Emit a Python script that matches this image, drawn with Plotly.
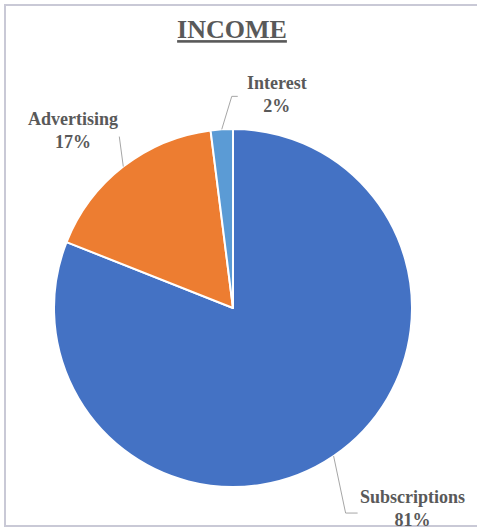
import math
import plotly.graph_objects as go

# ---- data ----
categories = ["Subscriptions", "Advertising", "Interest"]
values = [81, 17, 2]
colors = ["#4472C4", "#ED7D31", "#5B9BD5"]
title_text = "INCOME"

# ---- layout / styling ----
W, H = 477, 529
CX, CY, R = 233, 308, 179  # pie centre & radius in px
# label placement relative to the slice-edge anchor
label_style = {
    "Subscriptions": dict(elbow=(12, 57), end=(24, 57), text=(79, 52)),
    "Advertising": dict(elbow=(-4, -30), end=(-4, -30), text=(-50, -36)),
    "Interest": dict(elbow=(10, -33), end=(16, -33), text=(55, -35)),
}
label_font = dict(family="Liberation Serif, Times New Roman, serif", size=18, color="#595959")

def px2paper(x, y):
    return x / W, 1 - y / H

fig = go.Figure()
fig.add_trace(go.Pie(
    labels=categories,
    values=values,
    sort=False,
    direction="clockwise",
    rotation=0,
    marker=dict(colors=colors, line=dict(color="white", width=2)),
    textinfo="none",
    hoverinfo="label+percent",
    domain=dict(x=[(CX - R) / W, (CX + R) / W], y=[1 - (CY + R) / H, 1 - (CY - R) / H]),
    showlegend=False,
))

total = sum(values)
cum = 0
shapes = []
annotations = []
for cat, v in zip(categories, values):
    mid = (cum + v / 2) / total * 2 * math.pi
    cum += v
    ax = CX + R * math.sin(mid)
    ay = CY - R * math.cos(mid)
    st = label_style[cat]
    pts = [(ax, ay), (ax + st["elbow"][0], ay + st["elbow"][1]), (ax + st["end"][0], ay + st["end"][1])]
    path = "M " + " L ".join(f"{px2paper(x, y)[0]},{px2paper(x, y)[1]}" for x, y in pts)
    shapes.append(dict(type="path", xref="paper", yref="paper", path=path,
                       line=dict(color="#A6A6A6", width=1)))
    tx, ty = px2paper(ax + st["text"][0], ay + st["text"][1])
    pct = round(v / total * 100)
    annotations.append(dict(
        x=tx, y=ty, xref="paper", yref="paper", showarrow=False,
        text=f"<b>{cat}<br>{pct}%</b>", font=label_font, align="center",
        xanchor="center", yanchor="middle",
    ))

# border
shapes.append(dict(type="rect", xref="paper", yref="paper",
                   x0=5 / W, x1=1.05, y0=1 - 526 / H, y1=1 - 5 / H,
                   line=dict(color="#C9C9D6", width=2)))

fig.update_layout(
    width=W, height=H,
    margin=dict(l=0, r=0, t=0, b=0),
    paper_bgcolor="white",
    plot_bgcolor="white",
    title=dict(
        text=f"<b><span style='text-decoration:underline'>{title_text}</span></b>",
        x=232 / W, y=1 - 29 / H, xanchor="center", yanchor="middle",
        font=dict(family="Liberation Serif, Times New Roman, serif", size=26, color="#595959"),
    ),
    shapes=shapes,
    annotations=annotations,
)

fig.write_html("out.html")
